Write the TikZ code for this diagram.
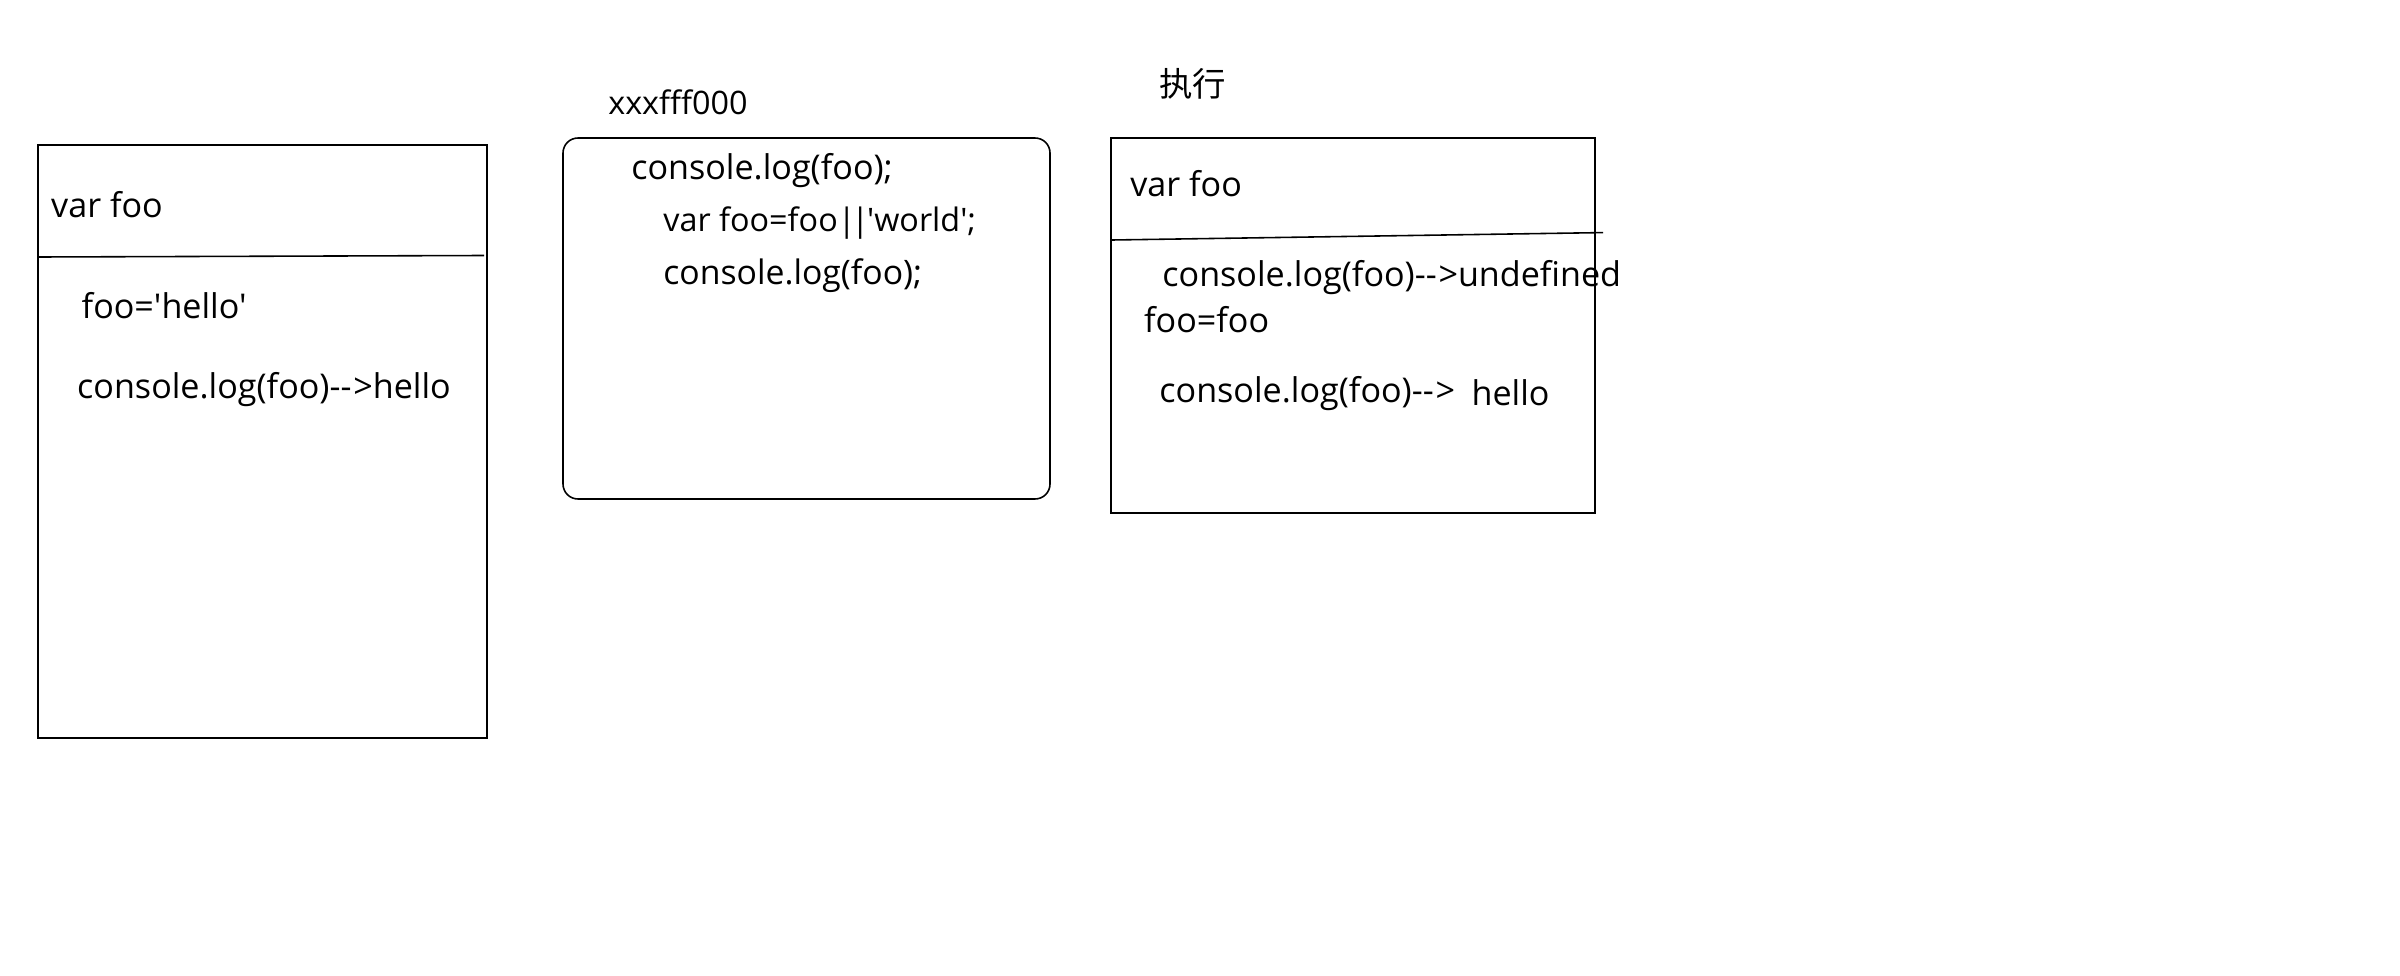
\documentclass[tikz,border=0pt]{standalone}
\usepackage{fontspec}
\setmainfont{Open Sans}[Ligatures=TeXOff]
\newfontfamily\cjk{Noto Sans CJK SC}
\begin{document}
\begin{tikzpicture}[x=0.01cm,y=-0.01cm,
  frame/.style={draw=black,line width=0.45pt},
  txt/.style={anchor=mid west,inner sep=0pt,yshift=-0.03cm,font=\fontsize{9.7}{11}\selectfont}]
\useasboundingbox (0,0) rectangle (2400,976);
% box 1
\draw[frame] (38,145) rectangle (487,738);
\coordinate (d1a) at (39,257);
\coordinate (d1b) at (484,255.5);
\draw[frame] (d1a) -- (d1b);
\node[txt] (t1) at (50.5,205) {var foo};
\node[txt] (t2) at (81,306) {foo='hello'};
\node[txt] (t3) at (76.5,386) {console.log(foo)--\kern0.5pt>hello};
% box 2
\draw[frame,rounded corners=0.15cm] (563,138) rectangle (1050,499);
\node[txt,font=\fontsize{9.2}{11}\selectfont] (t4) at (607.6,102.5) {xxxfff000};
\node[txt] (t5) at (630.6,166.8) {console.log(foo);};
\node[txt,font=\fontsize{9.2}{11}\selectfont] (t6) at (662.7,218.9) {var foo=foo|\kern-1.2pt|\kern-0.6pt'world';};
\node[txt,font=\fontsize{9.6}{11}\selectfont] (t7) at (662.7,272.4) {console.log(foo);};
% box 3
\draw[frame] (1111,138) rectangle (1595,513);
\coordinate (d3a) at (1112,240);
\coordinate (d3b) at (1603,232.6);
\draw[frame] (d3a) -- (d3b);
\node[txt,font=\fontsize{9.5}{11}\cjk] (t8) at (1158.7,84) {执行};
\node[txt] (t9) at (1129.6,183.7) {var foo};
\node[txt] (t10) at (1161.7,274) {console.log(foo)--\kern0.5pt>undefined};
\node[txt] (t11) at (1143.4,320) {foo=foo};
\node[txt] (t12) at (1158.7,390) {console.log(foo)--\kern0.5pt>};
\node[txt] (t13) at (1470.9,393) {hello};
\end{tikzpicture}
\end{document}
